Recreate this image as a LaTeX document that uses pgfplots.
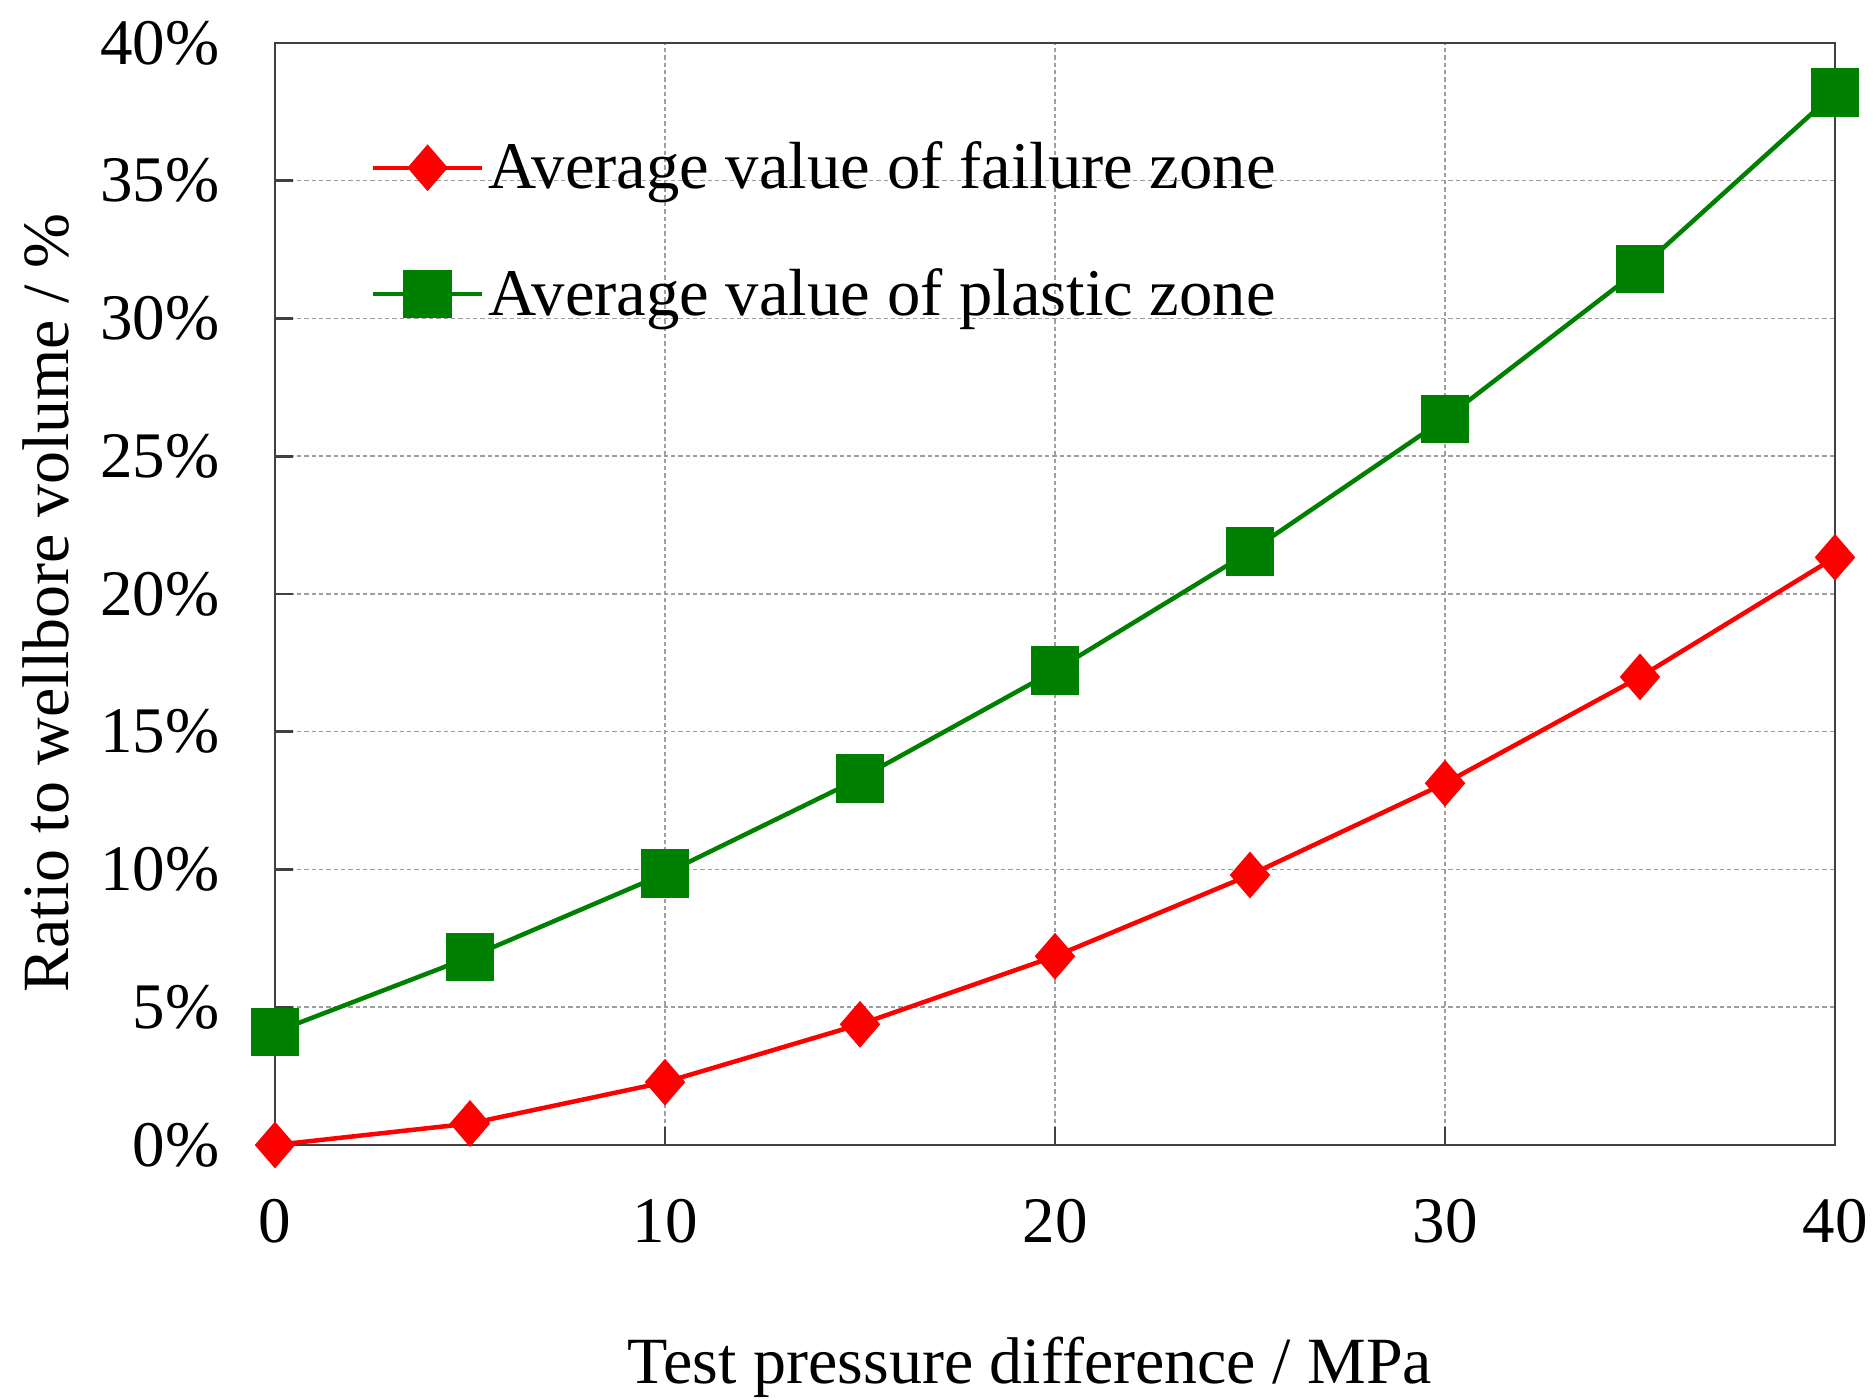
\documentclass[border=0pt]{standalone}
\usepackage{fontspec}
\setmainfont{Liberation Serif}
\usepackage{pgfplots}
\pgfplotsset{compat=1.18}
\definecolor{dgreen}{HTML}{008000}
\definecolor{axisgray}{HTML}{404040}
\begin{document}
\begin{tikzpicture}
\useasboundingbox (-82.5pt,-76.5pt) rectangle (479.7pt,343.5pt);
\begin{axis}[
  at={(0,0)}, anchor=south west,
  scale only axis,
  width=468pt, height=330.6pt,
  xmin=0, xmax=40, ymin=0, ymax=40,
  xtick={0,10,20,30,40},
  ytick={0,5,10,15,20,25,30,35,40},
  xtick pos=bottom, ytick pos=left,
  tick align=inside,
  major tick length=5.4pt,
  every tick/.style={axisgray, line width=0.8pt},
  axis line style={axisgray, line width=0.8pt},
  grid=major,
  major grid style={black!38, line width=0.45pt, dash pattern=on 1.3pt off 0.9pt},
  /pgf/number format/assume math mode=true,
  tick label style={font=\fontsize{19.5}{23.4}\selectfont},
  yticklabel={\pgfmathprintnumber{\tick}\%},
  yticklabel style={anchor=east, inner sep=0pt, xshift=-16.5pt},
  xticklabel style={anchor=north, inner sep=0pt, yshift=-16pt},
  label style={font=\fontsize{19.8}{23.4}\selectfont},
  xlabel={Test pressure difference / MPa},
  xlabel style={at={(axis description cs:0.484,-0.2167)}, anchor=base, inner sep=0pt},
  ylabel={Ratio to wellbore volume / \%},
  ylabel style={at={(axis description cs:-0.1321,0.4918)}, anchor=base, inner sep=0pt},
  clip=false,
  legend style={draw=none, fill=none, at={(axis description cs:0.0545,0.917)}, anchor=north west,
    font=\fontsize{20}{23.4}\selectfont, row sep=22.3pt, column sep=1.2pt,
    nodes={inner sep=0pt}},
  legend cell align=left,
  legend image code/.code={\draw[mark repeat=2,mark phase=2] plot coordinates {(0pt,0pt) (16.4pt,0pt) (32.8pt,0pt)};},
]
\addplot[red, line width=1.35pt, mark=diamond*, mark size=6pt, mark options={fill=red, draw=red, xscale=1.15, solid}]
coordinates {(0,0) (5,0.78) (10,2.28) (15,4.38) (20,6.85) (25,9.80) (30,13.13) (35,16.99) (40,21.33)};
\addlegendentry{Average value of failure zone}
\addplot[dgreen, line width=1.35pt, mark=square*, mark size=6.6pt, mark options={fill=dgreen, draw=dgreen, solid}]
coordinates {(0,4.10) (5,6.82) (10,9.85) (15,13.31) (20,17.22) (25,21.54) (30,26.36) (35,31.8) (40,38.2)};
\addlegendentry{Average value of plastic zone}
\end{axis}
\end{tikzpicture}
\end{document}
